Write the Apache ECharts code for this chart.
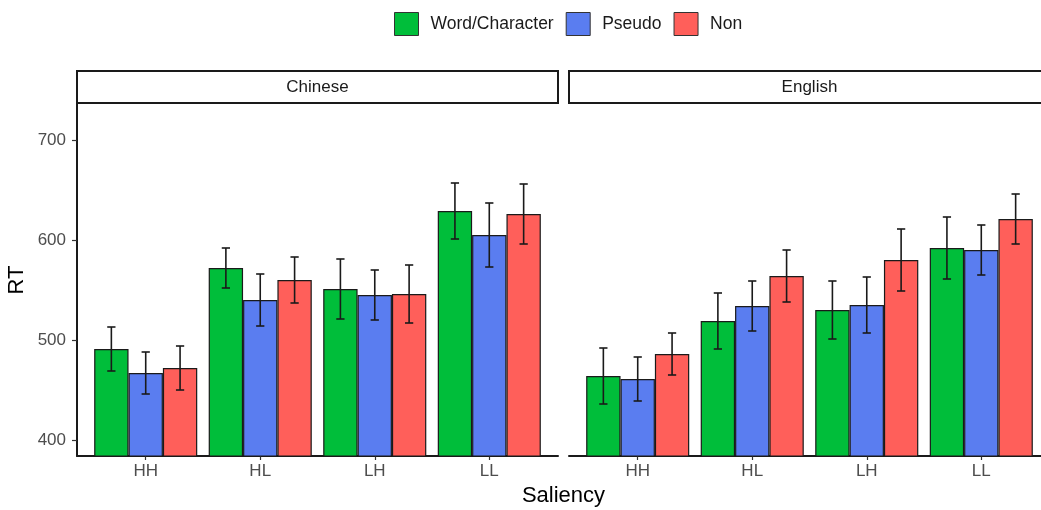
<!DOCTYPE html>
<html>
<head>
<meta charset="utf-8">
<script src="https://cdn.jsdelivr.net/npm/echarts@6/dist/echarts.min.js"></script>
<style>
  html, body { margin: 0; padding: 0; background: #ffffff; }
  #chart { width: 1041px; height: 510px; }
</style>
</head>
<body>
<div id="chart"></div>
<script>
// Saliency categories, word-type conditions and facet panels
const categories = ['HH', 'HL', 'LH', 'LL'];
const conditions = ['Word/Character', 'Pseudo', 'Non'];
const panels = ['Chinese', 'English'];

// Mean RT (ms) and standard error for each condition
const chineseWord = [491, 572, 551, 629];
const chineseWordSE = [22, 20, 30, 28];
const chinesePseudo = [467, 540, 545, 605];
const chinesePseudoSE = [21, 26, 25, 32];
const chineseNon = [472, 560, 546, 626];
const chineseNonSE = [22, 23, 29, 30];

const englishWord = [464, 519, 530, 592];
const englishWordSE = [28, 28, 29, 31];
const englishPseudo = [461, 534, 535, 590];
const englishPseudoSE = [22, 25, 28, 25];
const englishNon = [486, 564, 580, 621];
const englishNonSE = [21, 26, 31, 25];

const yTickValues = [400, 500, 600, 700];

// ---- styling / layout ----
const COLORS = ['#00BE3A', '#5A7DF0', '#FF5F5A'];
const FONT = '"Liberation Sans", Arial, sans-serif';
const LABEL_GREY = '#4D4D4D';
const INK = '#1A1A1A';
const Y_MIN = 384, Y_MAX = 737;
const PANEL_TOP = 103, PANEL_H = 353;
const PANEL_W = 481;
const PANEL_LEFT = [77, 569];
const UNIT = PANEL_W / 4.2;          // discrete scale: 0.6 expansion each side
const BAR_FRACTION = 0.9;             // dodge width of each group

const panelMeans = [
  [chineseWord, chinesePseudo, chineseNon],
  [englishWord, englishPseudo, englishNon]
];
const panelSE = [
  [chineseWordSE, chinesePseudoSE, chineseNonSE],
  [englishWordSE, englishPseudoSE, englishNonSE]
];

const grids = [], xAxes = [], yAxes = [], series = [], graphics = [];

function renderErrorBar(params, api) {
  const band = api.size([1, 0])[0];
  const barW = band * BAR_FRACTION / 3;
  const cond = api.value(1);
  const lo = api.coord([api.value(0), api.value(2)]);
  const hi = api.coord([api.value(0), api.value(3)]);
  const x = lo[0] + (cond - 1) * barW;
  const cap = band * 0.036;
  const st = { stroke: INK, lineWidth: 1.6 };
  return {
    type: 'group',
    children: [
      { type: 'line', shape: { x1: x, y1: hi[1], x2: x, y2: lo[1] }, style: st },
      { type: 'line', shape: { x1: x - cap, y1: hi[1], x2: x + cap, y2: hi[1] }, style: st },
      { type: 'line', shape: { x1: x - cap, y1: lo[1], x2: x + cap, y2: lo[1] }, style: st }
    ]
  };
}

panels.forEach(function (panel, p) {
  const left = PANEL_LEFT[p];
  const base = grids.length;

  // panel frame (axis lines)
  grids.push({ left: left, top: PANEL_TOP, width: PANEL_W, height: PANEL_H });
  xAxes.push({
    gridIndex: base, type: 'value', min: 0, max: 1,
    axisLine: { show: true, lineStyle: { color: INK, width: 2 } },
    axisTick: { show: false }, axisLabel: { show: false }, splitLine: { show: false }
  });
  yAxes.push({
    gridIndex: base, type: 'value', min: Y_MIN, max: Y_MAX,
    axisLine: { show: p === 0, lineStyle: { color: INK, width: 2 } },
    axisTick: { show: false }, axisLabel: { show: false }, splitLine: { show: false }
  });

  // bar area: categories spaced like a discrete scale
  grids.push({ left: left + 0.1 * UNIT, top: PANEL_TOP, width: 4 * UNIT, height: PANEL_H });
  xAxes.push({
    gridIndex: base + 1, type: 'category', data: categories,
    axisLine: { show: false },
    axisTick: { show: true, alignWithLabel: true, length: 4, lineStyle: { color: '#333', width: 1.2 } },
    axisLabel: { color: LABEL_GREY, fontSize: 17, fontFamily: FONT, margin: 7 },
    splitLine: { show: false }
  });
  yAxes.push({ gridIndex: base + 1, type: 'value', min: Y_MIN, max: Y_MAX, show: false });

  const means = panelMeans[p], ses = panelSE[p];
  conditions.forEach(function (cond, c) {
    series.push({
      name: cond, type: 'bar', xAxisIndex: base + 1, yAxisIndex: base + 1,
      data: means[c], barWidth: (BAR_FRACTION / 3 * 100) + '%', barGap: '0%',
      clip: true,
      itemStyle: { color: COLORS[c], borderColor: INK, borderWidth: 1.2 },
      emphasis: { disabled: true }, z: 2
    });
  });

  const errData = [];
  conditions.forEach(function (cond, c) {
    means[c].forEach(function (m, i) {
      errData.push([i, c, m - ses[c][i], m + ses[c][i]]);
    });
  });
  series.push({
    name: panel + ' SE', type: 'custom', xAxisIndex: base + 1, yAxisIndex: base + 1,
    renderItem: renderErrorBar, data: errData, encode: { x: 0, y: [2, 3] }, z: 5,
    silent: true
  });

  // facet strip
  graphics.push({
    type: 'rect', z: 10,
    shape: { x: left, y: 71, width: PANEL_W, height: 32 },
    style: { fill: '#ffffff', stroke: INK, lineWidth: 2 }
  });
  graphics.push({
    type: 'text', z: 11, x: left + PANEL_W / 2, y: 87,
    style: {
      text: panel, fill: INK, font: '17px ' + FONT,
      align: 'center', verticalAlign: 'middle', textAlign: 'center', textVerticalAlign: 'middle'
    }
  });
});

// y tick labels for the left panel (grid spans exactly 400..700)
grids.push({ left: PANEL_LEFT[0], top: 140, width: PANEL_W, height: 300 });
xAxes.push({ gridIndex: grids.length - 1, type: 'value', show: false, min: 0, max: 1 });
yAxes.push({
  gridIndex: grids.length - 1, type: 'value',
  min: yTickValues[0], max: yTickValues[yTickValues.length - 1], interval: 100,
  axisLine: { show: false },
  axisTick: { show: true, length: 5, lineStyle: { color: '#333', width: 1.2 } },
  axisLabel: { color: LABEL_GREY, fontSize: 17, fontFamily: FONT, margin: 11 },
  splitLine: { show: false }
});

// axis titles
graphics.push({
  type: 'text', x: 17, y: 280, rotation: Math.PI / 2,
  style: { text: 'RT', fill: '#000', font: '22px ' + FONT,
    align: 'center', verticalAlign: 'middle', textAlign: 'center', textVerticalAlign: 'middle' }
});
graphics.push({
  type: 'text', x: 563.5, y: 496,
  style: { text: 'Saliency', fill: '#000', font: '22px ' + FONT,
    align: 'center', verticalAlign: 'middle', textAlign: 'center', textVerticalAlign: 'middle' }
});

const chart = echarts.init(document.getElementById('chart'), null, { renderer: 'canvas' });
chart.setOption({
  animation: false,
  backgroundColor: '#ffffff',
  textStyle: { fontFamily: FONT },
  legend: {
    data: conditions, top: 12, left: 394, padding: 0,
    icon: 'rect', itemWidth: 24, itemHeight: 23, itemGap: 12,
    itemStyle: { borderColor: '#333', borderWidth: 1 },
    textStyle: { fontSize: 17.5, color: INK, fontFamily: FONT, padding: [0, 0, 0, 7] },
    selectedMode: false
  },
  grid: grids,
  xAxis: xAxes,
  yAxis: yAxes,
  series: series,
  graphic: graphics
});
</script>
</body>
</html>
